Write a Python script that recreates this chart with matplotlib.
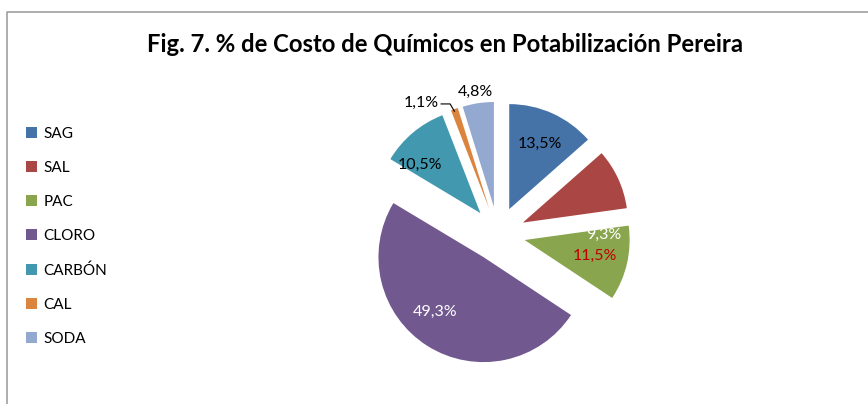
import numpy as np
import matplotlib
matplotlib.use("Agg")
import matplotlib.pyplot as plt
from matplotlib.patches import Patch
from matplotlib.lines import Line2D

categories = ["SAG", "SAL", "PAC", "CLORO", "CARBÓN", "CAL", "SODA"]
values = [13.5, 9.3, 11.5, 49.3, 10.5, 1.1, 4.8]
labels = ["13,5%", "9,3%", "11,5%", "49,3%", "10,5%", "1,1%", "4,8%"]
colors = ["#4572A7", "#AA4643", "#89A54E", "#71588F", "#4198AF", "#DB843D", "#93A9CF"]
label_colors = ["black", "white", "#C00000", "white", "black", "black", "black"]
title = "Fig. 7. % de Costo de Químicos en Potabilización Pereira"

plt.rcParams['font.family'] = ['Lato', 'DejaVu Sans']

W, H = 868, 404
fig = plt.figure(figsize=(W / 100, H / 100), dpi=100)

# chart border (cropped at right/bottom)
fig.add_artist(Line2D([7 / W, 7 / W, 1.0], [0.0, 1 - 12 / H, 1 - 12 / H],
                      color="#A0A0A0", lw=1.2, transform=fig.transFigure))

fig.text(445 / W, 1 - 44 / H, title, ha="center", va="center",
         fontsize=17.2, fontweight="bold", color="black")

# axes: center pixel (498,234), radius 105 px
cx, cy, R = 498, 234, 105
hw, hh = 200, 170
ax = fig.add_axes([(cx - hw) / W, (H - cy - hh) / H, 2 * hw / W, 2 * hh / H])

explode = 0.26
wedges, _ = ax.pie(values, colors=colors, startangle=90, counterclock=False,
                   explode=[explode] * len(values), radius=1.0,
                   wedgeprops=dict(linewidth=0))
ax.set_xlim(-hw / R, hw / R)
ax.set_ylim(-hh / R, hh / R)
ax.axis("off")

# label placement: (radius from slice centre, angle shift in degrees)
label_place = [(0.70, 0), (0.78, -32), (0.68, 2), (0.68, -10), (0.75, 10), (1.21, 13), (1.13, 0.5)]

fracs = np.array(values) / sum(values)
ends = 90 - 360 * np.cumsum(fracs)
starts = ends + 360 * fracs
for i, w in enumerate(wedges):
    mid = np.deg2rad((starts[i] + ends[i]) / 2)
    ox, oy = explode * np.cos(mid), explode * np.sin(mid)
    rr, da = label_place[i]
    a = mid + np.deg2rad(da)
    tx, ty = ox + rr * np.cos(a), oy + rr * np.sin(a)
    ax.text(tx, ty - 0.02, labels[i], ha="center", va="center", fontsize=11.5,
            color=label_colors[i], zorder=5)
    if categories[i] == "CAL":
        ex, ey = ox + 1.0 * np.cos(mid), oy + 1.0 * np.sin(mid)
        ax.plot([tx + 0.19, ex - 0.04, ex], [ty - 0.03, ty - 0.03, ey - 0.02],
                color="black", lw=0.8, zorder=5, clip_on=False)

handles = [Patch(facecolor=c, edgecolor="none") for c in colors]
fig.legend(handles, categories, loc="upper left", bbox_to_anchor=(26 / W, 1 - 127 / H),
           frameon=False, fontsize=11, handlelength=0.7, handleheight=0.7,
           handletextpad=0.45, labelspacing=1.31, borderpad=0, borderaxespad=0)

fig.savefig("out.png", dpi=100)
